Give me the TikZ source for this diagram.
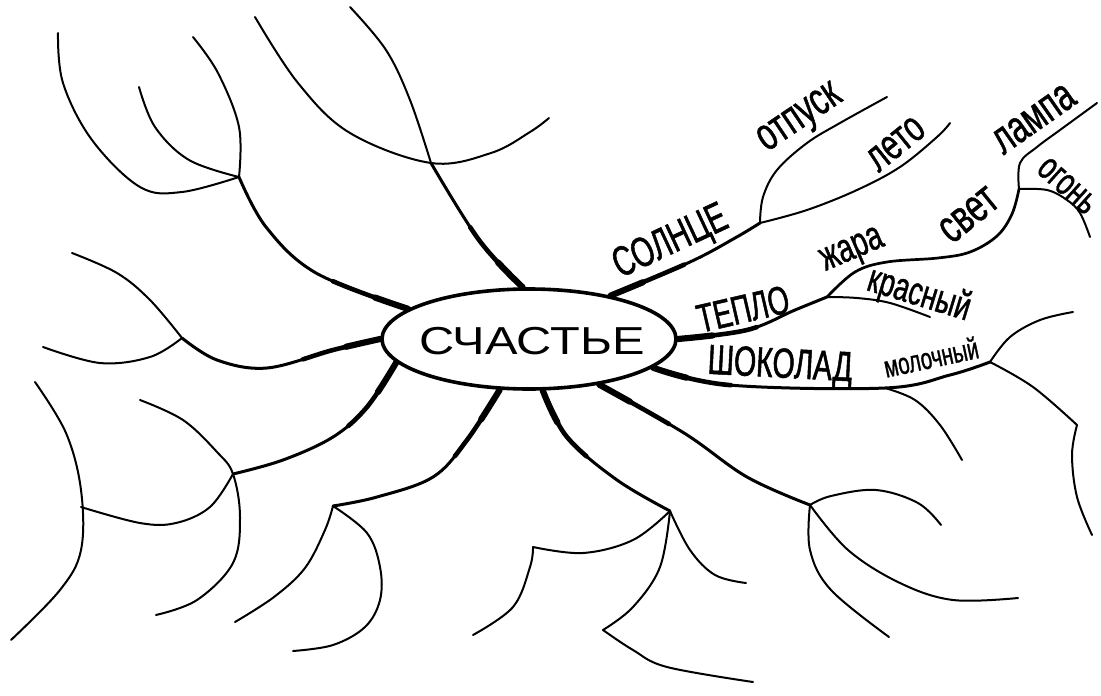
\documentclass[tikz,border=0pt]{standalone}
\usepackage{fontspec}
\setmainfont{Liberation Sans}
\newfontfamily\capf[FakeStretch=0.68,FakeBold=1.2]{Liberation Sans}
\newfontfamily\lowf[FakeStretch=0.68,FakeBold=1]{Liberation Sans}
\newfontfamily\widef[FakeStretch=1.25]{Liberation Sans}
\usetikzlibrary{shapes.geometric}
\newcommand\taper[1]{%
  \draw[line width=3pt,line cap=round,line join=round] #1;
  \draw[line width=4.6pt,line cap=round,dash pattern=on 80pt off 3000pt] #1;
  \draw[line width=6.2pt,line cap=round,dash pattern=on 35pt off 3000pt] #1;}
\begin{document}
\begin{tikzpicture}[x=1pt,y=-1pt,
  midb/.style={line width=2.7pt,line cap=round,line join=round},
  twig/.style={line width=2pt,line cap=round,line join=round},
  lbl/.style={inner sep=0pt,outer sep=0pt}]
\fill[white] (0,0) rectangle (1101,696);
\useasboundingbox (0,0) rectangle (1101,696);

% centre
\node[draw,ellipse,line width=3.6pt,minimum width=294pt,minimum height=100pt,inner sep=0pt] (c) at (529,339) {};
\node[lbl] (ct) at (532,341) {\widef\fontsize{39}{40}\selectfont СЧАСТЬЕ};

% forks and kinks
\coordinate (f1) at (760,223);
\coordinate (f2) at (827,297);
\coordinate (f3) at (1019,189);
\coordinate (f4) at (990,362);
\coordinate (s1) at (885,388);
\coordinate (f5) at (810,505);
\coordinate (f6) at (670,511);
\coordinate (f7) at (333,506);
\coordinate (f8) at (233,474);
\coordinate (f9) at (182,338);
\coordinate (f10) at (239,177);
\coordinate (f11) at (431,163);
\coordinate (k1) at (1077,425);
\coordinate (k2) at (533,547);
\coordinate (k3) at (603,630);

% right: СОЛНЦЕ
\taper{plot[smooth,tension=0.6] coordinates {(c.28) (690,262) (735,238) (f1)}}
\draw[twig] plot[smooth,tension=0.6] coordinates {(f1) (763,197) (777,170) (807,143) (840,123) (887,97)};
\draw[twig] plot[smooth,tension=0.6] coordinates {(f1) (807,210) (857,190) (900,167) (937,137) (950,123)};
% ТЕПЛО
\taper{plot[smooth,tension=0.6] coordinates {(c.0) (747,330) (795,310) (f2)}}
\draw[midb] plot[smooth,tension=0.6] coordinates {(f2) (855,272) (887,262) (938,258) (970,252) (997,236) (1012,214) (f3)};
\draw[twig] plot[smooth,tension=0.6] coordinates {(f3) (1020,163) (1037,147) (1060,130) (1097,103)};
\draw[twig] plot[smooth,tension=0.6] coordinates {(f3) (1047,190) (1067,200) (1080,213) (1090,237)};
\draw[twig] plot[smooth,tension=0.6] coordinates {(f2) (857,298) (890,303) (930,317)};
% ШОКОЛАД
\taper{plot[smooth,tension=0.6] coordinates {(c.-13) (729,385) (s1) (950,375) (f4)}}
\draw[twig] plot[smooth,tension=0.6] coordinates {(s1) (915,400) (940,425) (962,460)};
\draw[twig] plot[smooth,tension=0.6] coordinates {(f4) (1010,337) (1040,320) (1073,312)};
\draw[twig] plot[smooth,tension=0.6] coordinates {(f4) (1033,387) (k1)};
\draw[twig] plot[smooth,tension=0.6] coordinates {(k1) (1072,455) (1077,497) (1092,535)};
% lower right
\taper{plot[smooth,tension=0.6] coordinates {(c.-33) (684,433) (747,477) (f5)}}
\draw[twig] plot[smooth,tension=0.6] coordinates {(f5) (831,496) (876,490) (918,503) (941,525)};
\draw[twig] plot[smooth,tension=0.6] coordinates {(f5) (810,550) (831,590) (889,637)};
\draw[twig] plot[smooth,tension=0.6] coordinates {(f5) (848,550) (900,583) (953,600) (1018,598)};
% bottom
\taper{plot[smooth,tension=0.6] coordinates {(c.-75) (567,437) (617,480) (f6)}}
\draw[twig] plot[smooth,tension=0.6] coordinates {(f6) (633,540) (583,553) (k2)};
\draw[twig] plot[smooth,tension=0.6] coordinates {(k2) (530,567) (513,607) (473,635)};
\draw[twig] plot[smooth,tension=0.6] coordinates {(f6) (660,567) (633,607) (k3)};
\draw[twig] plot[smooth,tension=0.6] coordinates {(k3) (633,650) (667,667) (753,682)};
\draw[twig] plot[smooth,tension=0.6] coordinates {(f6) (690,550) (715,575) (746,583)};
% bottom left
\taper{plot[smooth,tension=0.6] coordinates {(c.-120) (467,440) (433,477) (377,497) (f7)}}
\draw[twig] plot[smooth,tension=0.6] coordinates {(f7) (325,530) (305,568) (274,597) (235,622)};
\draw[twig] plot[smooth,tension=0.6] coordinates {(f7) (367,533) (380,567) (380,600) (365,627) (333,645) (293,651)};
% lower left
\taper{plot[smooth,tension=0.6] coordinates {(c.-170) (367,407) (333,437) (283,460) (f8)}}
\draw[twig] plot[smooth,tension=0.6] coordinates {(140,400) (183,420) (217,452) (f8) (240,517) (233,563) (197,600) (156,615)};
\draw[twig] plot[smooth,tension=0.6] coordinates {(f8) (210,507) (176,523) (140,523) (81,507)};
\draw[twig] plot[smooth,tension=0.6] coordinates {(35,382) (66,433) (81,490) (81,550) (60,590) (11,640)};
% left middle
\taper{plot[smooth,tension=0.6] coordinates {(c.180) (333,350) (267,368) (217,360) (f9)}}
\draw[twig] plot[smooth,tension=0.6] coordinates {(f9) (150,300) (117,273) (72,253)};
\draw[twig] plot[smooth,tension=0.6] coordinates {(f9) (150,357) (100,363) (43,347)};
% upper left
\taper{plot[smooth,tension=0.6] coordinates {(c.166) (316,273) (266,227) (f10)}}
\draw[twig] plot[smooth,tension=0.6] coordinates {(58,33) (63,83) (92,140) (140,187) (182,192) (f10)};
\draw[twig] plot[smooth,tension=0.6] coordinates {(139,87) (155,127) (189,160) (f10)};
\draw[twig] plot[smooth,tension=0.6] coordinates {(f10) (239,127) (218,73) (193,37)};
% upper middle
\taper{plot[smooth,tension=0.6] coordinates {(c.97) (479,240) (f11)}}
\draw[twig] plot[smooth,tension=0.6] coordinates {(f11) (410,100) (386,50) (350,7)};
\draw[twig] plot[smooth,tension=0.6] coordinates {(255,17) (298,83) (350,133) (f11) (491,153) (530,132) (549,118)};

% labels
\node[lbl,rotate=25] (solnce) at (671,243) {\capf\fontsize{42}{44}\selectfont СОЛНЦЕ};
\node[lbl,rotate=13] (teplo) at (743,309) {\capf\fontsize{40}{42}\selectfont ТЕПЛО};
\node[lbl,rotate=-3] (shokolad) at (780,367) {\capf\fontsize{42}{44}\selectfont ШОКОЛАД};
\node[lbl,rotate=12] (moloch) at (931,357) {\lowf\fontsize{30}{32}\selectfont молочный};
\node[lbl,rotate=34] (otpusk) at (801,120) {\lowf\fontsize{46}{48}\selectfont отпуск};
\node[lbl,rotate=39] (leto) at (896,144) {\lowf\fontsize{44}{46}\selectfont лето};
\node[lbl,rotate=23] (zhara) at (853,252) {\lowf\fontsize{41}{43}\selectfont жара};
\node[lbl,rotate=39] (svet) at (969,215) {\lowf\fontsize{47}{49}\selectfont свет};
\node[lbl,rotate=35] (lampa) at (1034,119) {\lowf\fontsize{46}{48}\selectfont лампа};
\node[lbl,rotate=-42] (ogon) at (1067,186) {\lowf\fontsize{39}{41}\selectfont огонь};
\node[lbl,rotate=-17] (krasny) at (919,295) {\lowf\fontsize{40}{42}\selectfont красный};
\end{tikzpicture}
\end{document}
